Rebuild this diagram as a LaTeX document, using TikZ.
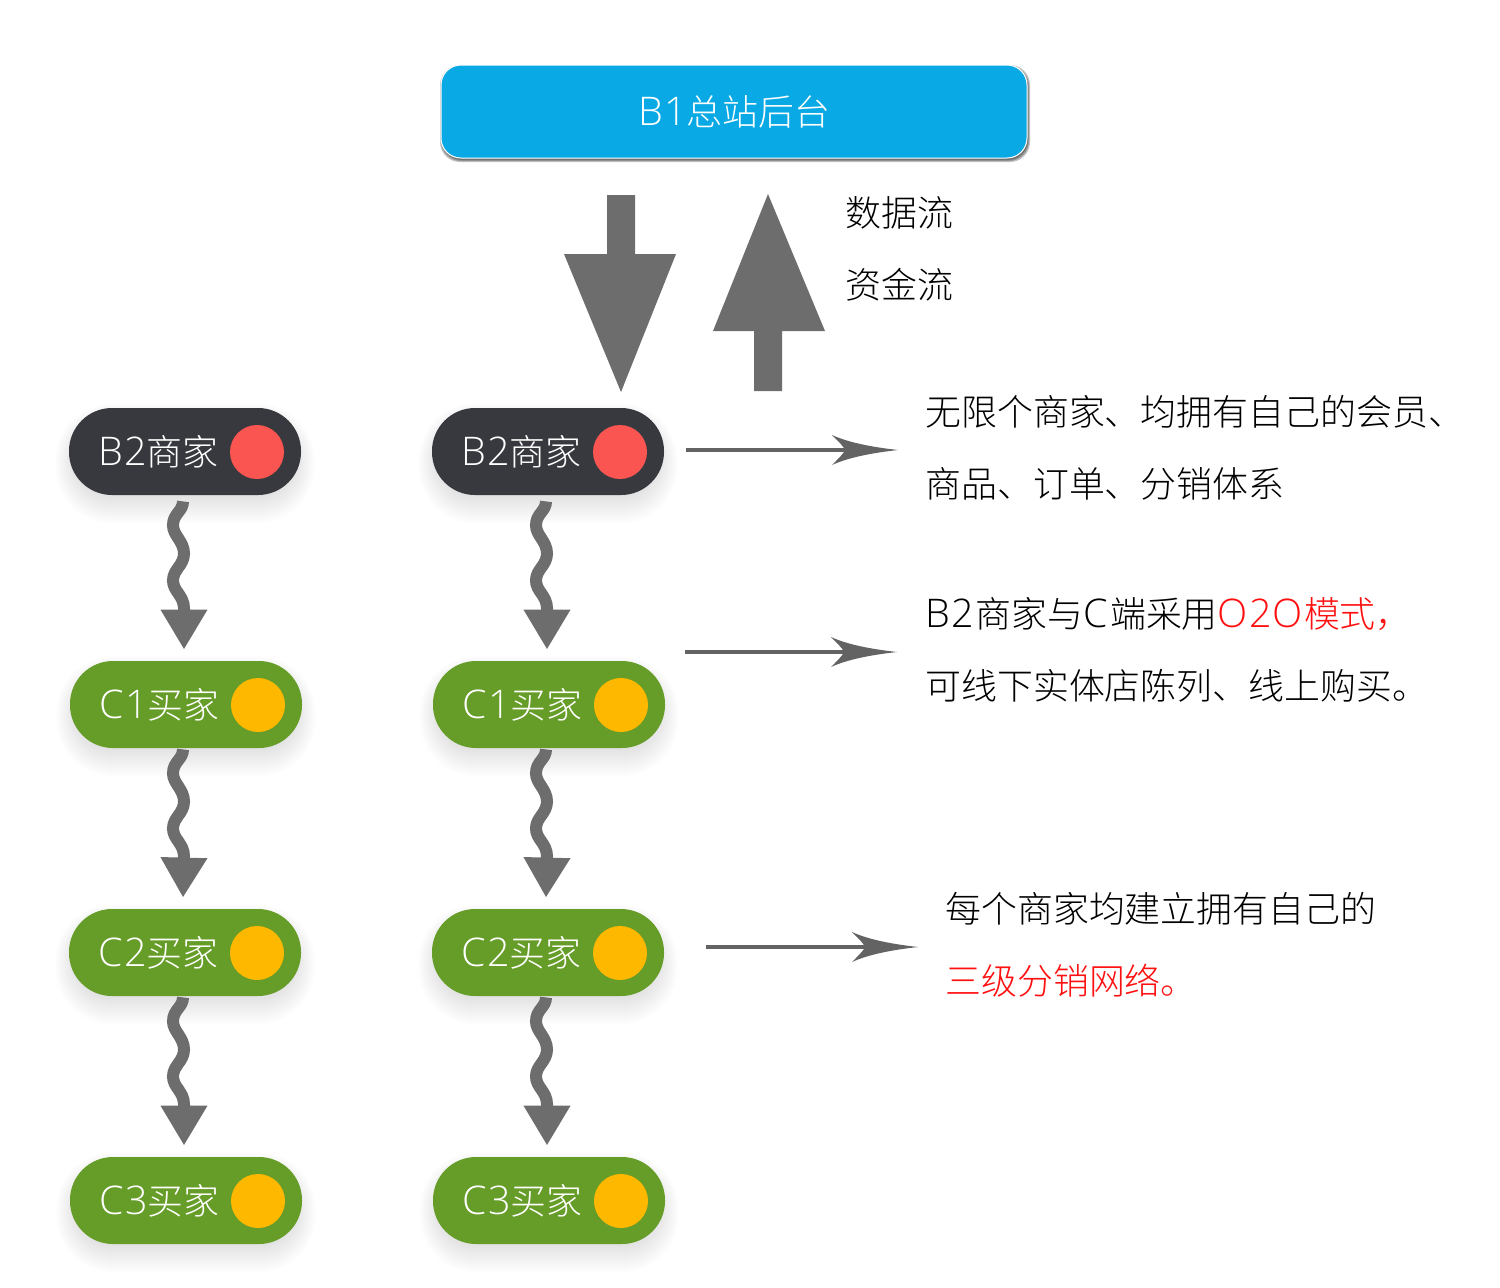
\documentclass[tikz,border=0pt]{standalone}
\usepackage{fontspec}
\usetikzlibrary{arrows.meta,calc}
\setmainfont{Noto Sans CJK SC Light}
\newfontfamily\latf[Scale=1.1,LetterSpace=3]{Open Sans Light}
\newcommand{\lt}[1]{{\latf #1}}
\definecolor{skyb}{HTML}{09A9E5}
\definecolor{grayarrow}{HTML}{6D6D6D}
\definecolor{thingray}{HTML}{636363}
\definecolor{darkpill}{HTML}{38393E}
\definecolor{greenpill}{HTML}{669C28}
\definecolor{redlamp}{HTML}{FA5550}
\definecolor{amberlamp}{HTML}{FFB800}
\definecolor{redtxt}{HTML}{FF1010}
\pgfarrowsdeclare{curvytip}{curvytip}
{\pgfarrowsleftextend{-6.5pt}\pgfarrowsrightextend{26.5pt}}
{
  \pgfsetlinewidth{0pt}
  \pgfpathmoveto{\pgfqpoint{26.5pt}{0pt}}
  \pgfpathcurveto{\pgfqpoint{14pt}{1.4pt}}{\pgfqpoint{2pt}{3.6pt}}{\pgfqpoint{-6.5pt}{7.5pt}}
  \pgfpathcurveto{\pgfqpoint{-3pt}{4pt}}{\pgfqpoint{-0.5pt}{1.5pt}}{\pgfqpoint{0pt}{0pt}}
  \pgfpathcurveto{\pgfqpoint{-0.5pt}{-1.5pt}}{\pgfqpoint{-3pt}{-4pt}}{\pgfqpoint{-6.5pt}{-7.5pt}}
  \pgfpathcurveto{\pgfqpoint{2pt}{-3.6pt}}{\pgfqpoint{14pt}{-1.4pt}}{\pgfqpoint{26.5pt}{0pt}}
  \pgfusepathqfill
}
\tikzset{
  pillbox/.style={rounded corners=21.5pt,minimum width=116pt,minimum height=43.5pt,inner sep=0pt,draw=none},
  lamp/.style={circle,minimum size=27pt,inner sep=0pt,draw=none},
  pilltext/.style={anchor=base west,text=white,inner sep=0pt,font=\fontsize{17.95pt}{20pt}\selectfont},
  note/.style={anchor=base west,text=black,inner sep=0pt,font=\fontsize{17.95pt}{20pt}\selectfont},
  bigarrow/.style={fill=grayarrow,draw=none},
  wave/.style={draw=grayarrow,line width=6pt,-{Triangle[length=20pt,width=22pt]},line cap=butt},
  thinarrow/.style={draw=thingray,line width=2.2pt,-curvytip},
}
\newcommand{\pill}[7]{% name cx cy colour text lamp colour lamp dx
  \foreach \s in {20,19,...,-8}{
    \fill[black,opacity=0.0058,rounded corners={(21.5+\s*0.35)*1pt}]
      ({#2-116-\s*0.7},{#3-43.5-\s*0.7+9}) rectangle ({#2+116+\s*0.7},{#3+43.5+\s+9});
  }
  \node[pillbox,fill=#4] (#1) at (#2,#3) {};
  \node[pilltext] (#1t) at ({#2-87},{#3+14}) {#5};
  \node[lamp,fill=#6] (#1c) at ({#2+#7},{#3+0.5}) {};
}
\newcommand{\wavy}[4]{% from, to, dx, dy
  \begin{scope}[shift={($(#1.south)+(#3,#4)$)}]
    \draw[wave] (-2,6) .. controls (-2,16) and (-12,18) .. (-12,30)
      .. controls (-12,40) and (-1,46) .. (-1,58)
      .. controls (-1,70) and (-12,74) .. (-12,85)
      .. controls (-12,96) and (-1,100) .. (-1,113)
      -- ($(#2.north)+(-2,-11)$);
  \end{scope}
}
\begin{document}
\begin{tikzpicture}[x=0.5pt,y=-0.5pt]
\useasboundingbox (0,0) rectangle (1500,1287);
% top box
\foreach \s in {2,1,0}{
  \fill[black,opacity=0.24,rounded corners=10pt] ({441+1-\s},{65+2-\s}) rectangle ({1027+1+\s},{158+2+\s});
}
\node[rounded corners=10pt,fill=skyb,draw=white,line width=0.5pt,minimum width=293pt,minimum height=46.5pt,inner sep=0pt] (top) at (734,111.5) {};
\node[pilltext] (topt) at (638,125) {\lt{B1}总站后台};
% block arrows
\fill[bigarrow] (607,195) -- (635,195) -- (635,254) -- (676,254) -- (621,392) -- (564,254) -- (607,254) -- cycle;
\fill[bigarrow] (754,391) -- (782,391) -- (782,331) -- (825,331) -- (768,194) -- (713,331) -- (754,331) -- cycle;
\node[note] (n1) at (845.5,226) {数据流};
\node[note] (n2) at (845.5,298) {资金流};
% left column
\pill{la}{185}{451.5}{darkpill}{\lt{B2}商家}{redlamp}{72}
\pill{lb}{186}{704.5}{greenpill}{\lt{C1}买家}{amberlamp}{72}
\pill{lc}{185}{952.5}{greenpill}{\lt{C2}买家}{amberlamp}{72}
\pill{ld}{186}{1200.5}{greenpill}{\lt{C3}买家}{amberlamp}{72}
% right column
\pill{ra}{548}{451.5}{darkpill}{\lt{B2}商家}{redlamp}{72}
\pill{rb}{549}{704.5}{greenpill}{\lt{C1}买家}{amberlamp}{72}
\pill{rc}{548}{952.5}{greenpill}{\lt{C2}买家}{amberlamp}{72}
\pill{rd}{549}{1200.5}{greenpill}{\lt{C3}买家}{amberlamp}{72}
% wavy
\wavy{la}{lb}{0}{0}\wavy{lb}{lc}{-1}{-5}\wavy{lc}{ld}{0}{-5}
\wavy{ra}{rb}{0}{0}\wavy{rb}{rc}{-1}{-5}\wavy{rc}{rd}{0}{-5}
% notes
\node[note] (a1) at (925,425) {无限个商家、均拥有自己的会员、};
\node[note] (a2) at (925,497) {商品、订单、分销体系};
\node[note] (b1) at (925,627) {\lt{B2}\kern1pt 商家与\lt{C}\kern1pt 端采用\textcolor{redtxt}{\lt{O2O}\kern0.5pt 模式，}};
\node[note] (b2) at (925,699) {可线下实体店陈列、线上购买。};
\node[note] (c1) at (945,922) {每个商家均建立拥有自己的};
\node[note] (c2) at (945,994) {\textcolor{redtxt}{三级分销网络。}};
% thin arrows
\coordinate (s1) at (686,450); \coordinate (e1) at (898,450);
\coordinate (s2) at (685,652); \coordinate (e2) at (897,652);
\coordinate (s3) at (706,947); \coordinate (e3) at (918,947);
\draw[thinarrow] (s1) -- (e1);
\draw[thinarrow] (s2) -- (e2);
\draw[thinarrow] (s3) -- (e3);
\end{tikzpicture}
\end{document}
